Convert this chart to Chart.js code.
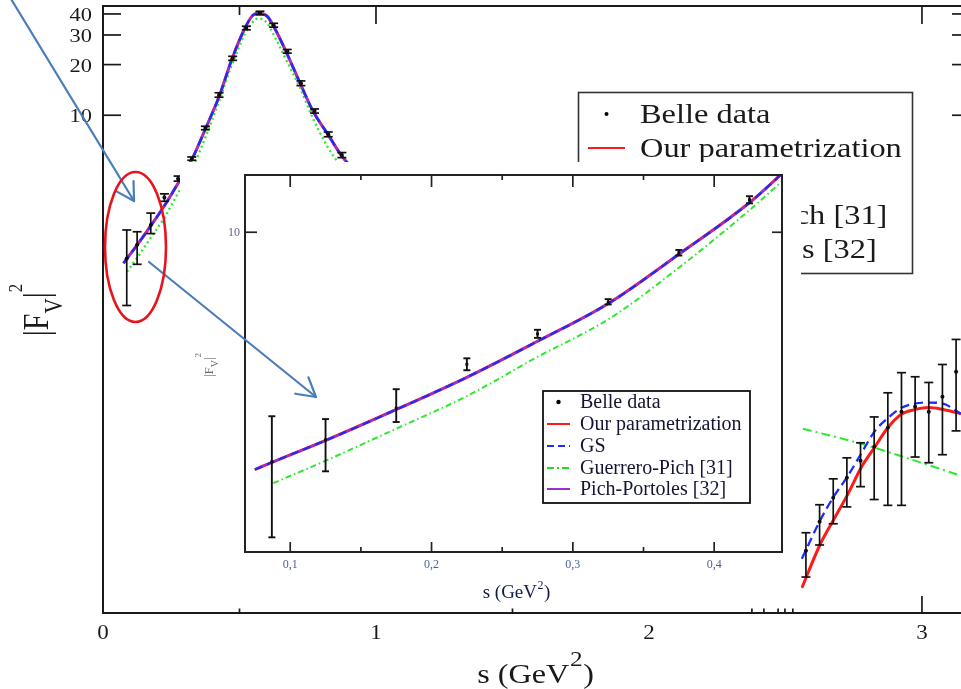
<!DOCTYPE html>
<html><head><meta charset="utf-8">
<script src="https://cdn.jsdelivr.net/npm/chart.js@4.4.1/dist/chart.umd.min.js"></script>
<style>
html,body{margin:0;padding:0;background:#fff;overflow:hidden;width:961px;height:689px;}
#wrap{position:relative;width:961px;height:689px;overflow:hidden;}
#main{position:absolute;left:0;top:0;}
#inset{position:absolute;left:180px;top:162px;background:#fff;}
#over{position:absolute;left:0;top:0;pointer-events:none;}
</style></head><body>
<div id="wrap">
<canvas id="main" width="975" height="689"></canvas>
<canvas id="inset" width="621" height="445"></canvas>
<canvas id="over" width="961" height="689"></canvas>
</div>
<script>
// ===== Data =====
// Belle data points (s in GeV^2, |F_V|^2) with error-bar limits
const belleS  = [0.087,0.125,0.175,0.225,0.275,0.325,0.375,0.425,0.475,0.525,0.575,0.625,0.675,0.725,0.775,0.825,0.875,
                 2.575,2.625,2.675,2.725,2.775,2.825,2.875,2.925,2.975,3.025,3.075,3.125];
const belleV  = [1.41,1.70,2.23,3.24,4.20,5.50,8.40,13.2,21.8,33.0,40.5,34.3,24.0,15.5,10.6,7.70,5.80,
                 0.0258,0.0383,0.0532,0.070,0.0884,0.107,0.139,0.173,0.185,0.173,0.212,0.299];
const belleLo = [0.74,1.30,1.98,3.08,4.06,5.40,8.20,12.8,21.2,32.2,39.5,33.4,23.4,15.0,10.3,7.45,5.60,
                 0.018,0.0279,0.0373,0.047,0.062,0.052,0.048,0.048,0.093,0.086,0.096,0.133];
const belleHi = [2.08,2.03,2.62,3.41,4.35,5.65,8.60,13.6,22.4,33.8,41.5,35.2,24.6,16.0,10.9,7.95,6.00,
                 0.033,0.0484,0.069,0.092,0.113,0.161,0.224,0.295,0.279,0.258,0.330,0.465];
const insetPointCount = 8;

// rho-peak curve (Our parametrization / GS / Pich-Portoles coincide here)
const peakS = [0.075,0.088,0.126,0.174,0.225,0.274,0.326,0.376,0.426,0.472,0.520,0.549,0.571,0.601,0.623,0.670,0.722,0.769,0.824,0.872,0.897];
const peakV = [1.32,1.41,1.70,2.19,2.90,3.92,5.48,8.36,13.0,21.5,33.0,39.3,40.5,38.8,34.3,24.0,15.5,10.6,7.70,5.80,5.18];
// Guerrero-Pich around the rho peak
const greenPeakS = [0.088,0.126,0.174,0.225,0.274,0.326,0.376,0.426,0.470,0.520,0.550,0.568,0.600,0.630,0.670,0.722,0.770,0.820,0.862];
const greenPeakV = [1.175,1.43,1.86,2.47,3.43,4.79,7.46,12.2,19.5,30.5,36.0,37.7,35.5,29.0,21.5,14.5,9.5,6.6,5.18];
// high-s region
const rhoS     = [2.560,2.626,2.674,2.729,2.777,2.828,2.872,2.927,2.974,3.026,3.077,3.143];
const rhoRedV  = [0.0155,0.0279,0.0388,0.0562,0.0803,0.107,0.137,0.168,0.178,0.183,0.178,0.168];
const rhoBlueV = [0.0231,0.0388,0.0532,0.072,0.0973,0.133,0.157,0.183,0.193,0.196,0.193,0.168];
const rhoGreenS = [2.564,2.773,2.919,3.143];
const rhoGreenV = [0.137,0.112,0.0946,0.072];

// Axis ticks and labels
const mainYTicks = [10,20,30,40];
const mainXLabels = [0,1,2,3];
const mainTopMajor = [1,3];
const mainTopMinor = [0.5];
const mainBottomMajor = [3];
const mainBottomMinor = [0.5,1.5,2.377,2.421,2.473,2.498,2.527];
const insetXMajor = [0.1,0.2,0.3,0.4];
const insetXMinor = [0.15,0.25,0.35];
const insetXLabels = ['0,1','0,2','0,3','0,4'];
const insetYTicks = [10];
const legendLabels = ['Belle data','Our parametrization','GS','Guerrero-Pich [31]','Pich-Portoles [32]'];

// ===== helpers =====
const SERIF = '"Liberation Serif","Times New Roman",serif';
function pts(xs, ys){ return xs.map((x,i)=>({x:x, y:ys[i]})); }
function gapJoin(a, b){ return a.concat([{x:(a[a.length-1].x+b[0].x)/2, y:null}], b); }
function seg(ctx,x1,y1,x2,y2){ ctx.beginPath(); ctx.moveTo(x1,y1); ctx.lineTo(x2,y2); ctx.stroke(); }
function sText(ctx,str,x,y,size,sx,align,color,baseline){
  ctx.save(); ctx.font=size+'px '+SERIF; ctx.fillStyle=color; ctx.textBaseline=baseline||'alphabetic'; ctx.textAlign='left';
  const w=ctx.measureText(str).width*sx;
  const x0 = align==='center'? x-w/2 : (align==='right'? x-w : x);
  ctx.translate(x0,y); ctx.scale(sx,1); ctx.fillText(str,0,0); ctx.restore(); return w;
}
function drawGeV(ctx,cx,base,size,supSize,sx,rise,color){
  ctx.save(); ctx.fillStyle=color; ctx.textAlign='left'; ctx.textBaseline='alphabetic';
  const f1=size+'px '+SERIF, f2=supSize+'px '+SERIF;
  ctx.font=f1; const w1=ctx.measureText('s (GeV').width, w3=ctx.measureText(')').width;
  ctx.font=f2; const w2=ctx.measureText('2').width;
  const tot=(w1+w2+w3)*sx;
  ctx.translate(cx-tot/2,base); ctx.scale(sx,1);
  ctx.font=f1; ctx.fillText('s (GeV',0,0);
  ctx.font=f2; ctx.fillText('2',w1+0.5,-rise);
  ctx.font=f1; ctx.fillText(')',w1+w2+1,0);
  ctx.restore();
}
function drawFV(ctx,bx,cy,big,vSize,supSize,subOff,supOff,sy,color){
  ctx.save(); ctx.translate(bx,cy); ctx.rotate(-Math.PI/2); ctx.scale(1,sy);
  ctx.fillStyle=color; ctx.textAlign='left'; ctx.textBaseline='alphabetic';
  const parts=[{t:'|F',s:big,o:0},{t:'V',s:vSize,o:subOff},{t:'|',s:big,o:0},{t:'2',s:supSize,o:supOff}];
  let tot=0; parts.forEach(p=>{ctx.font=p.s+'px '+SERIF; p.w=ctx.measureText(p.t).width; tot+=p.w;});
  let x=-tot/2;
  parts.forEach(p=>{ctx.font=p.s+'px '+SERIF; ctx.fillText(p.t,x,p.o/sy); x+=p.w;});
  ctx.restore();
}
function drawErrorBars(ctx,xs,ys,S,Lo,Hi,n,half,lw){
  ctx.save(); ctx.strokeStyle='#111'; ctx.lineWidth=lw; ctx.lineCap='butt';
  for(let i=0;i<n;i++){
    const x=xs.getPixelForValue(S[i]), y1=ys.getPixelForValue(Lo[i]), y2=ys.getPixelForValue(Hi[i]);
    seg(ctx,x,y1,x,y2); seg(ctx,x-half,y1,x+half,y1); seg(ctx,x-half,y2,x+half,y2);
  }
  ctx.restore();
}
function legendMarker(ctx,i,x1,x2,y,scale){
  ctx.save();
  if(i===0){ ctx.fillStyle='#000'; ctx.beginPath(); ctx.arc((x1+x2)/2,y,2*scale,0,Math.PI*2); ctx.fill(); }
  else{
    const st=[null,{c:'#ff1a1a',d:[]},{c:'#1a2cff',d:[7,4]},{c:'#22dd22',d:[7,3,2,3]},{c:'#9b30d0',d:[]}][i];
    ctx.strokeStyle=st.c; ctx.lineWidth=1.8*scale; ctx.setLineDash(st.d); seg(ctx,x1,y,x2,y);
  }
  ctx.restore();
}

// ===== main chart =====
const lineDefaults = {pointRadius:0, fill:false, cubicInterpolationMode:'monotone'};
const mainDecor = {
  id:'mainDecor',
  afterDatasetsDraw(chart){
    drawErrorBars(chart.ctx, chart.scales.x, chart.scales.y, belleS, belleLo, belleHi, belleS.length, 4.5, 1.7);
  },
  afterDraw(chart){
    const ctx=chart.ctx, a=chart.chartArea, xs=chart.scales.x, ys=chart.scales.y;
    ctx.save();
    ctx.strokeStyle='#1a1a1a'; ctx.lineWidth=2;
    ctx.strokeRect(a.left,a.top,a.right-a.left,a.bottom-a.top);
    ctx.lineWidth=1.7;
    mainYTicks.forEach(v=>{const p=ys.getPixelForValue(v); seg(ctx,a.left,p,a.left+18,p); seg(ctx,a.right-18,p,a.right,p);});
    mainTopMajor.forEach(v=>{const p=xs.getPixelForValue(v); seg(ctx,p,a.top,p,a.top+18);});
    mainTopMinor.forEach(v=>{const p=xs.getPixelForValue(v); seg(ctx,p,a.top,p,a.top+9);});
    mainBottomMajor.forEach(v=>{const p=xs.getPixelForValue(v); seg(ctx,p,a.bottom,p,a.bottom-17);});
    mainBottomMinor.forEach(v=>{const p=xs.getPixelForValue(v); seg(ctx,p,a.bottom,p,a.bottom-4.5);});
    // tick labels
    mainYTicks.forEach(v=>{ sText(ctx,String(v),a.left-11,ys.getPixelForValue(v)+7,19.5,1.15,'right','#1a1a1a'); });
    mainXLabels.forEach(v=>{ sText(ctx,String(v),xs.getPixelForValue(v),a.bottom+26,20,1.15,'center','#1a1a1a'); });
    // axis titles
    drawGeV(ctx,535,683,28,22,1.15,17,'#1a1a1a');
    drawFV(ctx,48,310,30,21,17,14,-26,1.16,'#1a1a1a');
    // legend
    ctx.fillStyle='#fff'; ctx.fillRect(578,92,335,182);
    ctx.strokeStyle='#333'; ctx.lineWidth=1.6; ctx.strokeRect(578.5,92.5,334,181);
    const bases=[123,157,190,224,258];
    legendLabels.forEach((t,i)=>{
      legendMarker(ctx,i,588,625,bases[i]-9,1);
      sText(ctx,t,640,bases[i],27,1.2,'left','#1a1a1a');
    });
    ctx.restore();
  }
};
new Chart(document.getElementById('main'), {
  type:'line',
  data:{datasets:[
    {label:'Belle data', data:pts(belleS,belleV), showLine:false, pointRadius:2, pointBackgroundColor:'#000', pointBorderWidth:0, borderColor:'#000'},
    Object.assign({label:'GS', data:gapJoin(pts(peakS,peakV),pts(rhoS,rhoBlueV)), borderColor:'#1a2cff', borderWidth:2.3, borderDash:[9,5]}, lineDefaults),
    Object.assign({label:'Pich-Portoles [32]', data:pts(peakS,peakV), borderColor:'#9b30d0', borderWidth:2.3}, lineDefaults),
    Object.assign({label:'Guerrero-Pich [31]', data:pts(greenPeakS,greenPeakV), borderColor:'#2ee82e', borderWidth:2.3, borderDash:[2,3]}, lineDefaults),
    Object.assign({label:'Guerrero-Pich [31] high s', data:pts(rhoGreenS,rhoGreenV), borderColor:'#2ee82e', borderWidth:2, borderDash:[9,4,2,4]}, lineDefaults),
    Object.assign({label:'Our parametrization', data:gapJoin(pts(peakS,peakV),pts(rhoS,rhoRedV)), borderColor:'#ff1a1a', borderWidth:3}, lineDefaults)
  ]},
  options:{
    responsive:false, animation:false, devicePixelRatio:1,
    layout:{padding:{left:0,right:5,top:6,bottom:0}},
    plugins:{legend:{display:false}, tooltip:{enabled:false}},
    scales:{
      x:{type:'linear', min:0, max:3.176, grid:{display:false,drawTicks:false}, border:{display:false}, ticks:{display:false},
         afterFit(s){ s.height=76; }},
      y:{type:'logarithmic', min:0.011, max:44.6, grid:{display:false,drawTicks:false}, border:{display:false}, ticks:{display:false},
         afterFit(s){ s.width=103; }}
    }
  },
  plugins:[mainDecor]
});

// ===== inset chart =====
const insetDecor = {
  id:'insetDecor',
  afterDatasetsDraw(chart){
    drawErrorBars(chart.ctx, chart.scales.x, chart.scales.y, belleS, belleLo, belleHi, insetPointCount, 3.5, 1.9);
  },
  afterDraw(chart){
    const ctx=chart.ctx, a=chart.chartArea, xs=chart.scales.x, ys=chart.scales.y;
    ctx.save();
    ctx.strokeStyle='#222'; ctx.lineWidth=2;
    ctx.strokeRect(a.left,a.top,a.right-a.left,a.bottom-a.top);
    ctx.lineWidth=1.7;
    insetXMajor.forEach(v=>{const p=xs.getPixelForValue(v); seg(ctx,p,a.bottom,p,a.bottom-10); seg(ctx,p,a.top,p,a.top+12);});
    insetXMinor.forEach(v=>{const p=xs.getPixelForValue(v); seg(ctx,p,a.bottom,p,a.bottom-5); seg(ctx,p,a.top,p,a.top+5);});
    insetYTicks.forEach(v=>{const p=ys.getPixelForValue(v); seg(ctx,a.left,p,a.left+12,p); seg(ctx,a.right-10,p,a.right,p);});
    insetXMajor.forEach((v,i)=>{ sText(ctx,insetXLabels[i],xs.getPixelForValue(v),a.bottom+16,12,1,'center','#4f5f96'); });
    insetYTicks.forEach(v=>{ sText(ctx,String(v),a.left-5,ys.getPixelForValue(v)+4,12,1,'right','#6e5a8c'); });
    drawGeV(ctx,336,436,19,12,1,9,'#141c48');
    drawFV(ctx,33,203,13,10,9,5,-12,1,'#6a6a6a');
    // legend
    ctx.fillStyle='#fff'; ctx.fillRect(363,229,207,112);
    ctx.strokeStyle='#111'; ctx.lineWidth=1.8; ctx.strokeRect(363,229,207,112);
    const bases=[246,268,290,312,333];
    legendLabels.forEach((t,i)=>{
      legendMarker(ctx,i,367,390,bases[i]-6,1.1);
      sText(ctx,t,400,bases[i],20,1,'left','#141433');
    });
    ctx.restore();
  }
};
new Chart(document.getElementById('inset'), {
  type:'line',
  data:{datasets:[
    {label:'Belle data', data:pts(belleS.slice(0,insetPointCount),belleV.slice(0,insetPointCount)), showLine:false, pointRadius:2, pointStyle:'rect', pointBackgroundColor:'#000', pointBorderWidth:0, borderColor:'#000'},
    Object.assign({label:'GS', data:pts(peakS,peakV), borderColor:'#1a2cff', borderWidth:2.2, borderDash:[8,5]}, lineDefaults),
    Object.assign({label:'Pich-Portoles [32]', data:pts(peakS,peakV), borderColor:'#9b30d0', borderWidth:2.2}, lineDefaults),
    Object.assign({label:'Guerrero-Pich [31]', data:pts(greenPeakS,greenPeakV), borderColor:'#2ee82e', borderWidth:2, borderDash:[6,3,1.5,3]}, lineDefaults),
    Object.assign({label:'Our parametrization', data:pts(peakS,peakV), borderColor:'#ff1a1a', borderWidth:3}, lineDefaults)
  ]},
  options:{
    responsive:false, animation:false, devicePixelRatio:1,
    layout:{padding:{left:0,right:19,top:13,bottom:0}},
    plugins:{legend:{display:false}, tooltip:{enabled:false}},
    scales:{
      x:{type:'linear', min:0.068, max:0.448, grid:{display:false,drawTicks:false}, border:{display:false}, ticks:{display:false},
         afterFit(s){ s.height=55; }},
      y:{type:'logarithmic', min:0.653, max:16.3, grid:{display:false,drawTicks:false}, border:{display:false}, ticks:{display:false},
         afterFit(s){ s.width=65; }}
    }
  },
  plugins:[insetDecor]
});

// ===== annotations (arrows, ellipse) =====
(function(){
  const o=document.getElementById('over').getContext('2d');
  function arrow(x1,y1,x2,y2,len){
    o.beginPath(); o.moveTo(x1,y1); o.lineTo(x2,y2); o.stroke();
    const ang=Math.atan2(y2-y1,x2-x1)+Math.PI;
    [-Math.PI/6, Math.PI/6].forEach(d=>{ o.beginPath(); o.moveTo(x2,y2); o.lineTo(x2+len*Math.cos(ang+d), y2+len*Math.sin(ang+d)); o.stroke(); });
  }
  o.strokeStyle='#4a7dba'; o.lineWidth=2.2; o.lineCap='round';
  arrow(8,-6,134,201,20);
  arrow(149,262,316,397,21);
  o.strokeStyle='#e8141c'; o.lineWidth=2.6;
  o.beginPath(); o.ellipse(135.5,247,30.5,75,0,0,Math.PI*2); o.stroke();
})();
</script>
</body></html>
